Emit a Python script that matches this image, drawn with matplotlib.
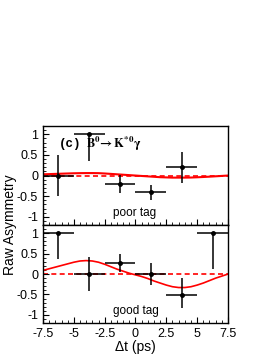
import numpy as np
import matplotlib
matplotlib.use('Agg')
import matplotlib.pyplot as plt
from matplotlib.ticker import MultipleLocator

plt.rcParams['font.family'] = ['Liberation Sans', 'DejaVu Sans']
plt.rcParams['mathtext.fontset'] = 'stix'

# poor tag (no point in the last bin)
poor_t = [-6.25, -3.75, -1.25, 1.25, 3.75]
poor_a = [0.0, 1.0, -0.2, -0.41, 0.2]
poor_lo = [0.5, 0.64, 0.22, 0.18, 0.37]
poor_hi = [0.5, 0.0, 0.22, 0.18, 0.37]

# good tag
good_t = [-6.25, -3.75, -1.25, 1.25, 3.75, 6.25]
good_a = [1.0, 0.0, 0.26, 0.0, -0.52, 1.0]
good_lo = [0.64, 0.41, 0.22, 0.28, 0.31, 0.88]
good_hi = [0.0, 0.41, 0.24, 0.27, 0.42, 0.0]

# fit curves
curve_t = [-7.5, -7.0, -6.5, -6.0, -5.5, -5.0, -4.5, -4.0, -3.5, -3.0, -2.5, -2.0,
           -1.5, -1.0, -0.5, 0.0, 0.5, 1.0, 1.5, 2.0, 2.5, 3.0, 3.5, 4.0, 4.5,
           5.0, 5.5, 6.0, 6.5, 7.0, 7.5]
poor_fit = [0.03, 0.035, 0.04, 0.045, 0.05, 0.055, 0.058, 0.06, 0.06, 0.058, 0.05,
            0.04, 0.03, 0.02, 0.01, 0.0, -0.01, -0.02, -0.03, -0.04, -0.045, -0.05,
            -0.05, -0.05, -0.048, -0.042, -0.035, -0.027, -0.018, -0.009, 0.0]
good_fit = [0.09, 0.13, 0.17, 0.21, 0.25, 0.29, 0.32, 0.33, 0.32, 0.29, 0.24, 0.18,
            0.12, 0.07, 0.02, -0.02, -0.06, -0.11, -0.17, -0.22, -0.27, -0.31,
            -0.33, -0.33, -0.31, -0.27, -0.22, -0.16, -0.1, -0.05, 0.0]

fig = plt.figure(figsize=(2.74, 3.55), dpi=100)
ax1 = fig.add_axes([0.157, 0.366, 0.675, 0.279])
ax2 = fig.add_axes([0.157, 0.090, 0.675, 0.276])


def panel(ax, t, a, lo, hi, fit, fit_lw, label):
    ax.axhline(0, color='red', ls=(0, (3, 2)), lw=1.2, zorder=1)
    ax.plot(curve_t, fit, color='red', lw=fit_lw, zorder=2)
    ax.errorbar(t, a, xerr=[1.25] * len(t), yerr=[lo, hi], fmt='o', color='black',
                ms=2.5, elinewidth=1.1, capsize=0, zorder=3)
    ax.set_xlim(-7.5, 7.5)
    ax.set_ylim(-1.2, 1.2)
    ax.xaxis.set_major_locator(MultipleLocator(2.5))
    ax.xaxis.set_minor_locator(MultipleLocator(0.5))
    ax.yaxis.set_major_locator(MultipleLocator(0.5))
    ax.yaxis.set_minor_locator(MultipleLocator(0.1))
    ax.tick_params(which='both', direction='in', top=False, right=False, labelsize=9)
    ax.tick_params(which='major', length=4, width=0.8)
    ax.tick_params(which='minor', length=2, width=0.6)
    ax.set_yticks([-1, -0.5, 0, 0.5, 1])
    ax.set_yticklabels(['-1', '-0.5', '0', '0.5', '1'])
    for s in ax.spines.values():
        s.set_linewidth(1.0)
    ax.text(-1.85, -0.9, label, fontsize=8.5, va='center')


panel(ax1, poor_t, poor_a, poor_lo, poor_hi, poor_fit, 1.5, 'poor tag')
panel(ax2, good_t, good_a, good_lo, good_hi, good_fit, 1.2, 'good tag')
ax1.tick_params(labelbottom=False)

ax1.text(-6.2, 0.76, '(c)', family='Liberation Mono', fontweight='bold', fontsize=9, va='center')
ax1.text(-4.05, 0.76, r'$\mathbf{B^0\!\rightarrow K^{*0}\gamma}$', fontsize=9, va='center')

ax2.set_xticks([-7.5, -5, -2.5, 0, 2.5, 5, 7.5])
ax2.set_xticklabels(['-7.5', '-5', '-2.5', '0', '2.5', '5', '7.5'])
ax2.set_xlabel('\u0394t (ps)', fontsize=10, labelpad=0)
fig.text(0.036, 0.366, 'Raw Asymmetry', rotation=90, fontsize=10, va='center', ha='center')

fig.savefig('out.png', dpi=100)
